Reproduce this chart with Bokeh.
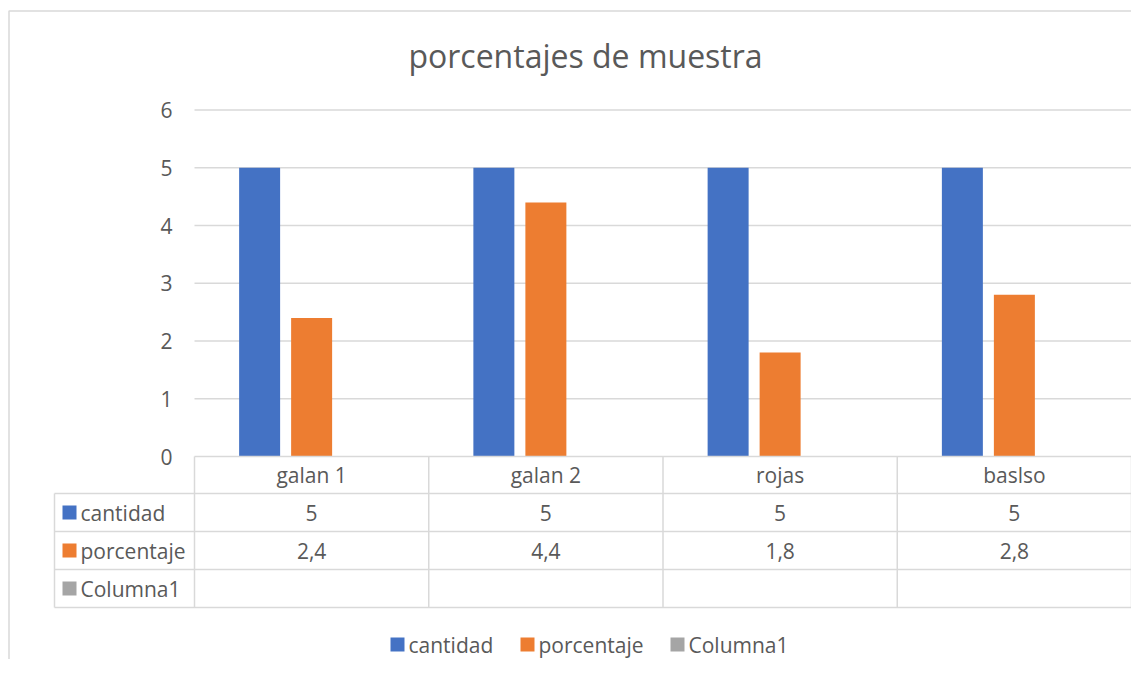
from bokeh.plotting import figure
from bokeh.models import Range1d
from bokeh.core.properties import value
from bokeh.embed import file_html
from bokeh.resources import INLINE

# ---------------- data ----------------
title = "porcentajes de muestra"
categories = ["galan 1", "galan 2", "rojas", "baslso"]
series_names = ["cantidad", "porcentaje", "Columna1"]
cantidad = [5, 5, 5, 5]
porcentaje = [2.4, 4.4, 1.8, 2.8]
columna1 = [None, None, None, None]
y_ticks = [0, 1, 2, 3, 4, 5, 6]

series_values = [cantidad, porcentaje, columna1]
colors = ["#4472C4", "#ED7D31", "#A5A5A5"]
TEXT = "#595959"
LINE = "#d9d9d9"
FONT = value("Open Sans")
FS = "21px"

# ---------------- layout (canvas px -> data) ----------------
W, H = 1131, 659
X0_PX, UNIT_X = 194.0, 234.25   # category 0 boundary, px per category
Y0_PX, UNIT_Y = 456.0, 57.75    # value 0, px per unit


def X(px):
    return (px - X0_PX) / UNIT_X


def Y(py):
    return (Y0_PX - py) / UNIT_Y


p = figure(width=W, height=H, output_backend="svg", toolbar_location=None,
           x_axis_type=None, y_axis_type=None,
           x_range=Range1d(X(0), X(W)), y_range=Range1d(Y(H), Y(0)),
           min_border=0, outline_line_color=None)
p.xgrid.visible = False
p.ygrid.visible = False
p.background_fill_color = "white"
p.border_fill_color = "white"

# outer chart border
p.quad(left=[X(8.5)], right=[X(1146)], top=[Y(10.5)], bottom=[Y(800)],
       fill_color=None, line_color=LINE, line_width=1.5)

n = len(categories)
# gridlines
grid_vals = [t for t in y_ticks if t != 0]
p.segment(x0=[0] * len(grid_vals), x1=[n] * len(grid_vals), y0=grid_vals, y1=grid_vals,
          line_color=LINE, line_width=1.3)

# y tick labels
p.text(x=[X(172)] * len(y_ticks), y=y_ticks, text=[str(t) for t in y_ticks],
       text_align="right", text_baseline="middle", text_font=FONT,
       text_font_size=FS, text_color=TEXT)

# bars
offsets = [-0.222, 0.0, 0.222]
bw = 0.175
for vals, off, col in zip(series_values, offsets, colors):
    xs = [i + 0.5 + off for i, v in enumerate(vals) if v is not None]
    tops = [v for v in vals if v is not None]
    if xs:
        p.vbar(x=xs, top=tops, bottom=0, width=bw, fill_color=col, line_color=None)

# ---------------- data table ----------------
row_px = [456, 493, 531, 569, 607]
rows_y = [Y(r) for r in row_px]
left_px = 54
p.segment(x0=[0], x1=[n], y0=[rows_y[0]], y1=[rows_y[0]], line_color=LINE, line_width=1.5)
hy = rows_y[1:]
p.segment(x0=[X(left_px)] * len(hy), x1=[n] * len(hy), y0=hy, y1=hy,
          line_color=LINE, line_width=1.5)
vx = list(range(n + 1))
p.segment(x0=vx, x1=vx, y0=[rows_y[0]] * len(vx), y1=[rows_y[-1]] * len(vx),
          line_color=LINE, line_width=1.5)
p.segment(x0=[X(left_px)], x1=[X(left_px)], y0=[rows_y[1]], y1=[rows_y[-1]],
          line_color=LINE, line_width=1.5)

centers = [i + 0.5 for i in range(n)]
mid = [(rows_y[k] + rows_y[k + 1]) / 2 for k in range(len(rows_y) - 1)]


def fmt(v):
    if v is None:
        return ""
    return ("%g" % v).replace(".", ",")


p.text(x=centers, y=[mid[0]] * n, text=categories, text_align="center",
       text_baseline="middle", text_font=FONT, text_font_size=FS, text_color=TEXT)
for k, (name, vals, col) in enumerate(zip(series_names, series_values, colors)):
    yy = mid[k + 1]
    p.text(x=centers, y=[yy] * n, text=[fmt(v) for v in vals], text_align="center",
           text_baseline="middle", text_font=FONT, text_font_size=FS, text_color=TEXT)
    p.rect(x=[X(69)], y=[yy], width=14, height=14, width_units="screen",
           height_units="screen", fill_color=col, line_color=None)
    p.text(x=[X(80)], y=[yy], text=[name], text_align="left", text_baseline="middle",
           text_font=FONT, text_font_size=FS, text_color=TEXT)

# ---------------- legend ----------------
leg_sq_px = [397, 527, 677]
leg_y = Y(644)
for name, col, sx in zip(series_names, colors, leg_sq_px):
    p.rect(x=[X(sx)], y=[leg_y], width=14, height=14, width_units="screen",
           height_units="screen", fill_color=col, line_color=None)
    p.text(x=[X(sx + 11)], y=[leg_y], text=[name], text_align="left",
           text_baseline="middle", text_font=FONT, text_font_size=FS, text_color=TEXT)

# ---------------- title ----------------
p.text(x=[X(585)], y=[Y(55)], text=[title], text_align="center", text_baseline="middle",
       text_font=FONT, text_font_size="32px", text_color=TEXT)

open("out.html", "w").write(file_html(p, INLINE))
